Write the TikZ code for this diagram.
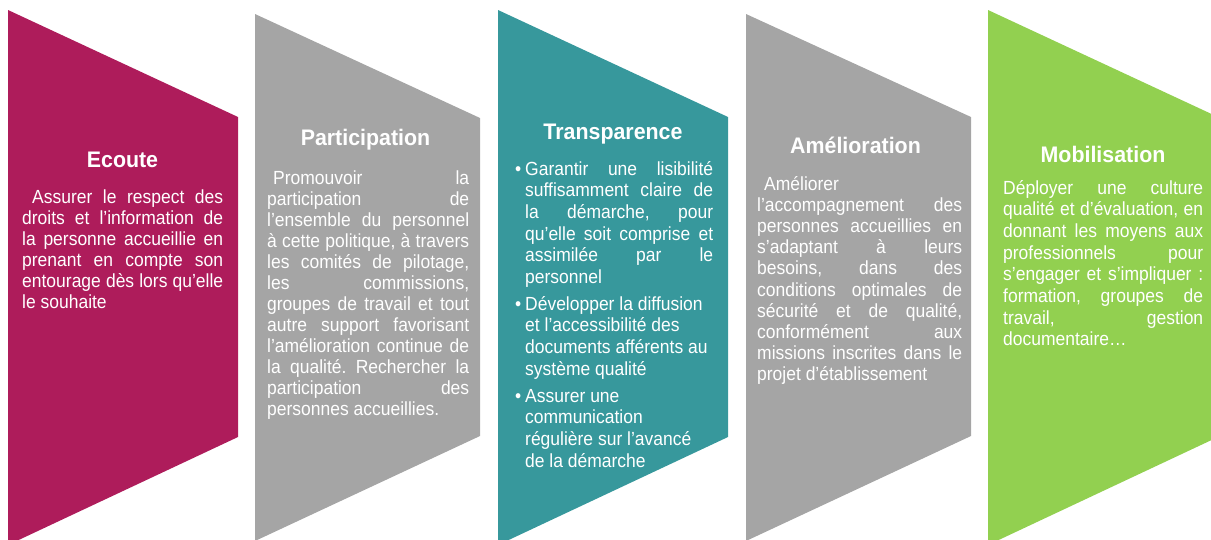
\documentclass[tikz,border=0pt]{standalone}
\usepackage{fontspec}
\setmainfont{Liberation Sans}
\newfontfamily\bodyf[FakeStretch=0.92]{Liberation Sans}
\newfontfamily\ttlf[FakeStretch=0.95]{Liberation Sans}
\frenchspacing
\definecolor{cmag}{HTML}{AE1C5B}
\definecolor{cgray}{HTML}{A5A5A5}
\definecolor{cteal}{HTML}{37989C}
\definecolor{cgreen}{HTML}{92D050}
\newcommand\J[1]{\hbox to \hsize{#1}}
\newcommand\N[1]{\hbox{#1}}
\newcommand\Bu{\llap{•\hskip 4pt}}
\tikzset{
  ttl/.style={anchor=base, inner sep=0pt, text=white, font=\ttlf\fontsize{22.5}{25}\selectfont\bfseries},
  body/.style={anchor=base west, inner sep=0pt, text=white, font=\bodyf\fontsize{19}{21}\selectfont\frenchspacing},
}
\begin{document}
\begin{tikzpicture}[x=1pt,y=-1pt]
\useasboundingbox (0,0) rectangle (1211,539);
\clip (0,0) rectangle (1211,539);
% chevrons
\fill[cmag]   (8,10)   -- (238,117) -- (238,437) -- (8,545)   -- cycle;
\fill[cgray]  (255,14) -- (480,118) -- (480,436) -- (255,541) -- cycle;
\fill[cteal]  (498,10) -- (728,117) -- (728,437) -- (498,545) -- cycle;
\fill[cgray]  (746,14) -- (971,117) -- (971,436) -- (746,541) -- cycle;
\fill[cgreen] (988,10) -- (1218,117) -- (1218,437) -- (988,545) -- cycle;
% titles
\node[ttl] (t1) at (122.5,167) {Ecoute};
\node[ttl] (t2) at (365.5,145) {Participation};
\node[ttl] (t3) at (613,139) {Transparence};
\node[ttl] (t4) at (855.5,153) {Amélioration};
\node[ttl] (t5) at (1103,162) {Mobilisation};
% bodies
\node[body] (b1) at (22,203) {\vtop{\hsize=201pt
\J{\hskip 10pt Assurer le respect des}
\J{droits et l’information de}
\J{la personne accueillie en}
\J{prenant en compte son}
\J{entourage dès lors qu’elle}
\N{le souhaite}}};
\node[body] (b2) at (267,184) {\vtop{\hsize=202pt \baselineskip=21.05pt
\J{\hskip 6pt Promouvoir la}
\J{participation de}
\J{l’ensemble du personnel}
\J{à cette politique, à travers}
\J{les comités de pilotage,}
\J{les commissions,}
\J{groupes de travail et tout}
\J{autre support favorisant}
\J{l’amélioration continue de}
\J{la qualité. Rechercher la}
\J{participation des}
\N{personnes accueillies.}}};
\node[body] (b3) at (525,175) {\vtop{\hsize=188pt \baselineskip=21.7pt
\J{\Bu Garantir une lisibilité}
\J{suffisamment claire de}
\J{la démarche, pour}
\J{qu’elle soit comprise et}
\J{assimilée par le}
\N{personnel}
\vskip 5pt
\N{\Bu Développer la diffusion}
\N{et l’accessibilité des}
\N{documents afférents au}
\N{système qualité}
\vskip 5pt
\N{\Bu Assurer une}
\N{communication}
\N{régulière sur l’avancé}
\N{de la démarche}}};
\node[body] (b4) at (757,190) {\vtop{\hsize=205pt \baselineskip=21.2pt
\N{\hskip 7pt Améliorer}
\J{l’accompagnement des}
\J{personnes accueillies en}
\J{s’adaptant à leurs}
\J{besoins, dans des}
\J{conditions optimales de}
\J{sécurité et de qualité,}
\J{conformément aux}
\J{missions inscrites dans le}
\N{projet d’établissement}}};
\node[body] (b5) at (1003,194) {\vtop{\hsize=200pt \baselineskip=21.7pt
\J{Déployer une culture}
\J{qualité et d’évaluation, en}
\J{donnant les moyens aux}
\J{professionnels pour}
\J{s’engager et s’impliquer :}
\J{formation, groupes de}
\J{travail, gestion}
\N{documentaire…}}};
\end{tikzpicture}
\end{document}
